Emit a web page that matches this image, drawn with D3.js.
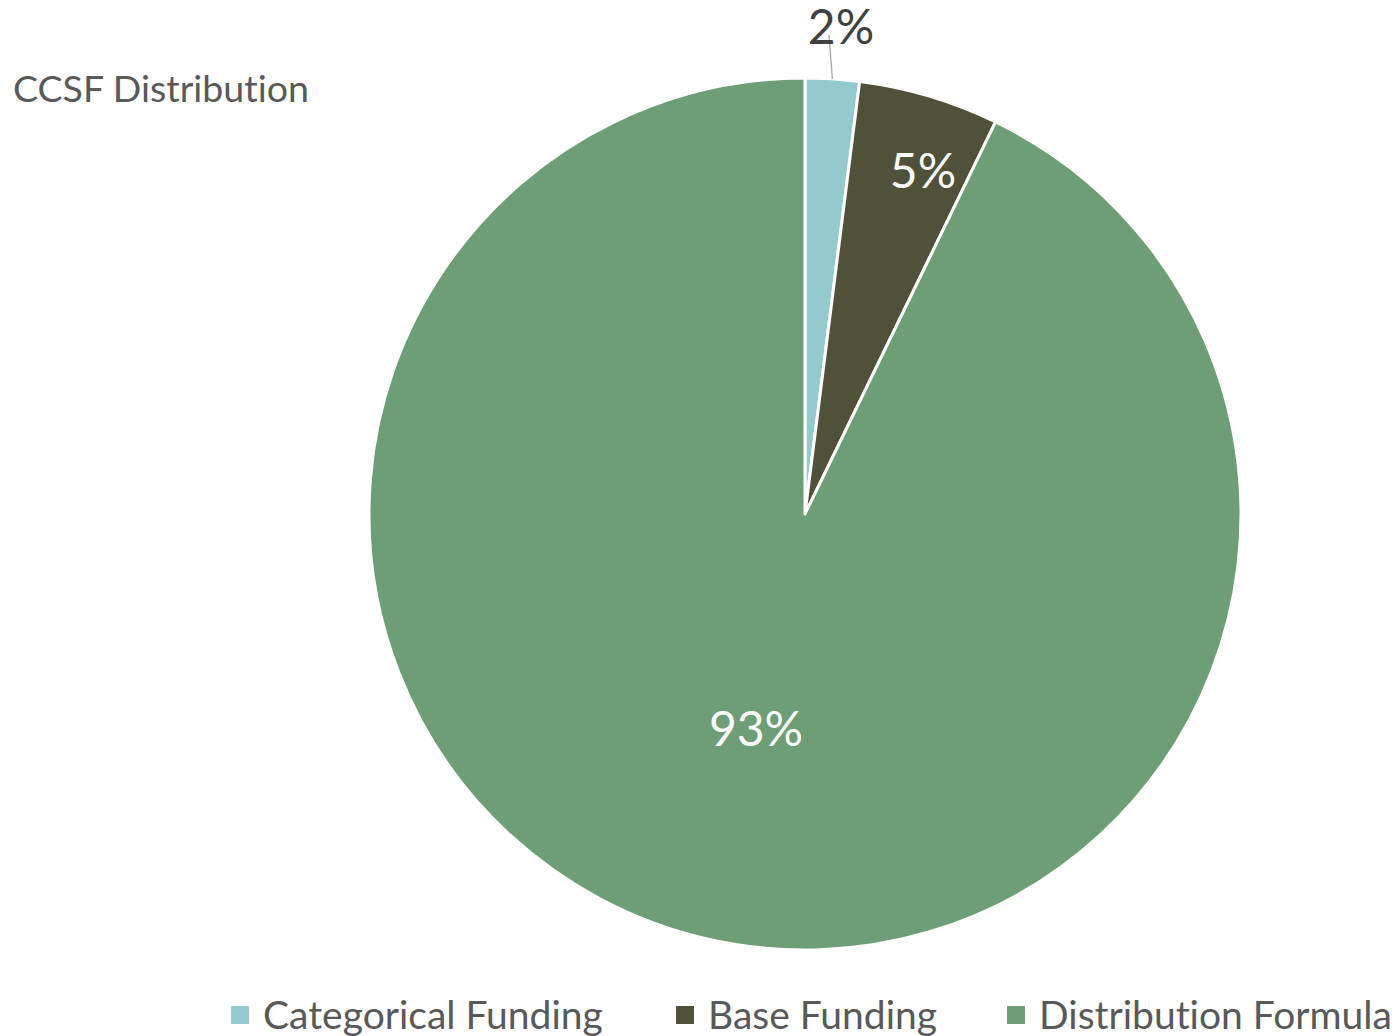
<!DOCTYPE html>
<html><head><meta charset="utf-8">
<script src="https://cdn.jsdelivr.net/npm/d3@7"></script>
<style>body{margin:0;background:#fff;}svg{display:block;}text{font-variant-ligatures:none;font-feature-settings:"liga" 0;}</style>
</head><body>
<script>
const categories = ["Categorical Funding", "Base Funding", "Distribution Formula"];
const values = [2.0, 5.2, 92.8];
const labels = ["2%", "5%", "93%"];
const colors = ["#93CACD", "#515139", "#6E9E75"];
const title = "CCSF Distribution";

const W = 1400, H = 1036;
const svg = d3.select("body").append("svg").attr("width", W).attr("height", H);
const font = "Lato, 'Open Sans', sans-serif";

svg.append("text").attr("x", 13).attr("y", 102).attr("font-family", font)
  .attr("font-size", 37.5).attr("fill", "#595959").text(title);

const cx = 805, cy = 514, R = 436;
const pie = d3.pie().sort(null).value(d => d)(values);
const arc = d3.arc().innerRadius(0).outerRadius(R);
const g = svg.append("g").attr("transform", `translate(${cx},${cy})`);
g.selectAll("path").data(pie).join("path")
  .attr("d", arc).attr("fill", (d, i) => colors[i])
  .attr("stroke", "#fff").attr("stroke-width", 3).attr("stroke-linejoin", "round");

const labelPos = [[841, 44], [923, 188], [756, 746]];
pie.forEach((d, i) => {
  if (i === 0) {
    const mid = (d.startAngle + d.endAngle) / 2;
    const p0 = [Math.sin(mid) * R, -Math.cos(mid) * R];
    g.append("line").attr("x1", p0[0]).attr("y1", p0[1]).attr("x2", 829 - cx).attr("y2", 35 - cy)
      .attr("stroke", "#A6A6A6").attr("stroke-width", 1.3);
  }
  svg.append("text").attr("x", labelPos[i][0]).attr("y", labelPos[i][1]).attr("text-anchor", "middle")
    .attr("font-family", font).attr("font-size", 48).attr("fill", i === 0 ? "#404040" : "#fff").text(labels[i]);
});

// legend
const legX = [231, 676, 1007];
const leg = svg.append("g");
categories.forEach((c, i) => {
  leg.append("rect").attr("x", legX[i]).attr("y", 1006).attr("width", 18).attr("height", 18).attr("fill", colors[i]);
  leg.append("text").attr("x", legX[i] + 32).attr("y", 1029).attr("font-family", font)
    .attr("font-size", 39).attr("fill", "#595959").text(c);
});
</script>
</body></html>
